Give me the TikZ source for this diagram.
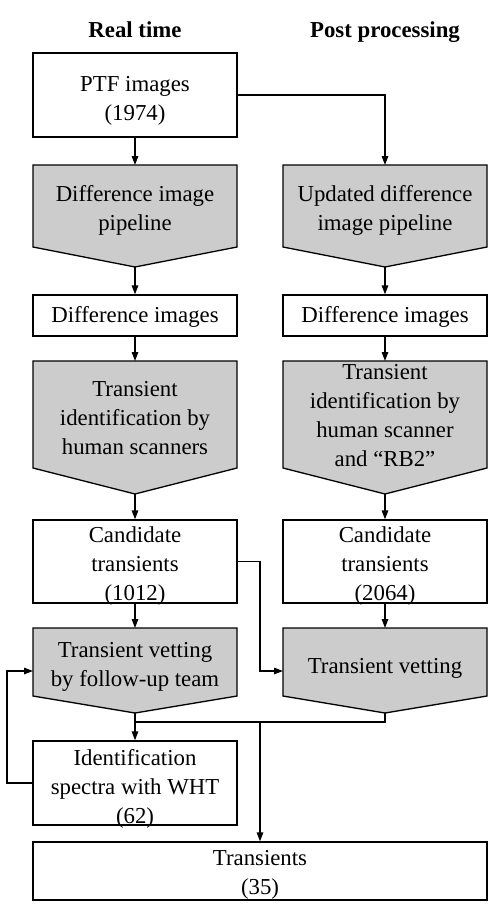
\documentclass[tikz,border=0pt]{standalone}
\usepackage{fontspec}
\setmainfont{Liberation Serif}
\usetikzlibrary{arrows.meta}
\tikzset{
  txt/.style={font=\fontsize{22.8pt}{29pt}\selectfont, align=center, inner sep=0pt},
  box/.style={draw, fill=white, line width=1.3pt, minimum width=204pt, rectangle, inner sep=0pt},
  pent/.style={draw, fill=gray!40, line width=1.3pt, line join=miter},
  conn/.style={line width=1.3pt},
  arr/.style={conn, -{Triangle[length=9pt,width=6.5pt]}},
  ttl/.style={font=\fontsize{22.8pt}{29pt}\selectfont\bfseries, inner sep=0pt, anchor=base}
}
\begin{document}
\begin{tikzpicture}[x=1pt,y=-1pt]
\useasboundingbox (0,0) rectangle (503,911);
% titles
\node[ttl] (t1) at (135,37) {Real time};
\node[ttl] (t2) at (385,37) {Post processing};
% boxes
\node[box, minimum height=84pt] (ptf) at (135,95) {};
\node[box, minimum height=41pt] (dl) at (135,315.5) {};
\node[box, minimum height=41pt] (dr) at (385,315.5) {};
\node[box, minimum height=83pt] (candL) at (135,561.5) {};
\node[box, minimum height=83pt] (candR) at (385,561.5) {};
\node[box, minimum height=84pt] (ident) at (135,783) {};
\node[box, minimum width=454pt, minimum height=58pt] (trans) at (260,871) {};
\node[txt] (ptfT) at (135,101) {PTF images\\(1974)};
\node[txt] (dlT) at (135,316.5) {Difference images};
\node[txt] (drT) at (385,316.5) {Difference images};
\node[txt] (candLT) at (135,566.5) {Candidate\\transients\\(1012)};
\node[txt] (candRT) at (385,566.5) {Candidate\\transients\\(2064)};
\node[txt] (identT) at (135,789) {Identification\\spectra with WHT\\(62)};
\node[txt] (transT) at (260,875) {Transients\\(35)};
% pentagons
\draw[pent] (33,165) -- (237,165) -- (237,247) -- (135,267) -- (33,247) -- cycle;
\draw[pent] (283,165) -- (487,165) -- (487,247) -- (385,267) -- (283,247) -- cycle;
\draw[pent] (33,361) -- (237,361) -- (237,468) -- (135,494) -- (33,468) -- cycle;
\draw[pent] (283,361) -- (487,361) -- (487,468) -- (385,494) -- (283,468) -- cycle;
\draw[pent] (33,628) -- (237,628) -- (237,696) -- (135,713) -- (33,696) -- cycle;
\draw[pent] (283,628) -- (487,628) -- (487,696) -- (385,713) -- (283,696) -- cycle;
\node[txt] (pipeL) at (135,210.5) {Difference image\\pipeline};
\node[txt] (pipeR) at (385,210.5) {Updated difference\\image pipeline};
\node[txt] (tidL) at (135,418) {Transient\\identification by\\human scanners};
\node[txt] (tidR) at (385,416) {Transient\\identification by\\human scanner\\and “RB2”};
\node[txt] (vetL) at (135,667) {Transient vetting\\by follow-up team};
\node[txt] (vetR) at (385,668) {Transient vetting};
% pentagon anchor coordinates
\coordinate (pipeLtop) at (135,165);
\coordinate (pipeRtop) at (385,165);
\coordinate (pipeLtip) at (135,267);
\coordinate (pipeRtip) at (385,267);
\coordinate (tidLtop) at (135,361);
\coordinate (tidRtop) at (385,361);
\coordinate (tidLtip) at (135,494);
\coordinate (tidRtip) at (385,494);
\coordinate (vetLtop) at (135,628);
\coordinate (vetRtop) at (385,628);
\coordinate (vetLtip) at (135,713);
\coordinate (vetRtip) at (385,713);
\coordinate (vetLleft) at (33,671);
\coordinate (vetRleft) at (283,671);
\coordinate (jog) at (260,671);
\coordinate (fb) at (7,671);
\coordinate (mergeL) at (135,722);
\coordinate (mergeM) at (260,722);
% connectors
\draw[arr] (ptf.south) -- (pipeLtop);
\draw[arr] (ptf.east) -| (pipeRtop);
\draw[arr] (pipeLtip) -- (dl.north);
\draw[arr] (pipeRtip) -- (dr.north);
\draw[arr] (dl.south) -- (tidLtop);
\draw[arr] (dr.south) -- (tidRtop);
\draw[arr] (tidLtip) -- (candL.north);
\draw[arr] (tidRtip) -- (candR.north);
\draw[arr] (candL.south) -- (vetLtop);
\draw[arr] (candR.south) -- (vetRtop);
\draw[arr] (candL.east) -| (jog) -- (vetRleft);
\draw[arr] (ident.west) -| (fb) -- (vetLleft);
\draw[arr] (vetLtip) -- (ident.north);
\draw[conn] (vetRtip) |- (mergeL);
\draw[arr] (mergeM) -- (trans.north);
\end{tikzpicture}
\end{document}
